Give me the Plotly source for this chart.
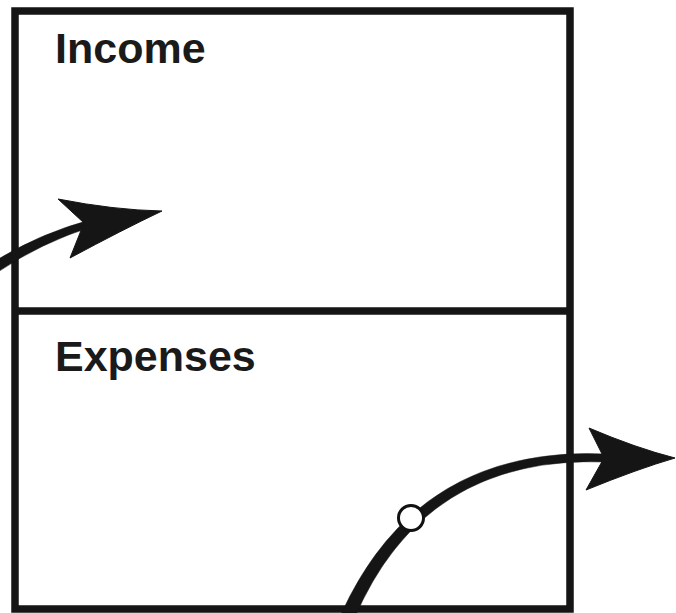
import math
import plotly.graph_objects as go

W, H = 676, 613

# Diagram content
section_labels = ["Income", "Expenses"]
label_pos = [(53, 48), (53, 356)]

# box geometry (pixel-like data coordinates)
box_x = [15, 570]
box_y = [11, 311, 609]

# arrow 1 (entering Income): shaft (start, control, end), head (tip, upper barb, notch, lower barb)
arrow1_shaft = [(-6, 268), (40, 238), (92, 223)]
arrow1_width = (11, 7)
arrow1_head = [(162, 211), (58, 199), (84, 223), (70, 258)]

# arrow 2 (leaving Expenses)
arrow2_shaft = [(347, 618), (420, 450), (606, 458)]
arrow2_width = (14, 8)
arrow2_head = [(675, 458), (589, 428), (604, 458), (586, 490)]

marker_pt = (411, 518)

def pt(p):
    return f"{p[0]:.1f},{p[1]:.1f}"

def head_path(h):
    tip, up, notch, low = h
    c1 = ((up[0] + tip[0]) / 2 + 4, (up[1] + tip[1]) / 2 + 5)
    c2 = ((low[0] + tip[0]) / 2 + 7, (low[1] + tip[1]) / 2 - 5)
    return (f"M {pt(tip)} Q {pt(c1)} {pt(up)} L {pt(notch)} L {pt(low)} "
            f"Q {pt(c2)} {pt(tip)} Z")

def normal(a, b):
    dx, dy = b[0] - a[0], b[1] - a[1]
    L = math.hypot(dx, dy)
    return (-dy / L, dx / L)

def tapered_shaft(s, widths):
    p0, p1, p2 = s
    w0, w2 = widths[0] / 2, widths[1] / 2
    w1 = (w0 + w2) / 2
    n0 = normal(p0, p1)
    n2 = normal(p1, p2)
    n1 = normal(p0, p2)
    def off(p, n, w, sgn):
        return (p[0] + sgn * n[0] * w, p[1] + sgn * n[1] * w)
    return (f"M {pt(off(p0, n0, w0, 1))} Q {pt(off(p1, n1, w1, 1))} {pt(off(p2, n2, w2, 1))} "
            f"L {pt(off(p2, n2, w2, -1))} Q {pt(off(p1, n1, w1, -1))} {pt(off(p0, n0, w0, -1))} Z")

fig = go.Figure()
fig.add_trace(go.Scatter(x=[marker_pt[0]], y=[marker_pt[1]], mode="markers",
                         marker=dict(size=25, color="white",
                                     line=dict(color="#111", width=3)),
                         hoverinfo="skip", showlegend=False))

shapes = []
ink = "#151515"
shapes.append(dict(type="rect", xref="x", yref="y", x0=box_x[0], x1=box_x[1],
                   y0=box_y[0], y1=box_y[2], line=dict(color=ink, width=7.5),
                   fillcolor="rgba(0,0,0,0)", layer="below"))
shapes.append(dict(type="line", xref="x", yref="y", x0=box_x[0], x1=box_x[1],
                   y0=box_y[1], y1=box_y[1], line=dict(color=ink, width=7.5),
                   layer="below"))
for s, wd in ((arrow1_shaft, arrow1_width), (arrow2_shaft, arrow2_width)):
    shapes.append(dict(type="path", xref="x", yref="y", path=tapered_shaft(s, wd),
                       line=dict(color=ink, width=0.5), fillcolor=ink, layer="below"))
for h in (arrow1_head, arrow2_head):
    shapes.append(dict(type="path", xref="x", yref="y", path=head_path(h),
                       line=dict(color=ink, width=1), fillcolor=ink, layer="below"))

annotations = []
for lab, (x, y) in zip(section_labels, label_pos):
    annotations.append(dict(x=x, y=y, xref="x", yref="y", text=f"<b>{lab}</b>",
                            showarrow=False, xanchor="left", yanchor="middle",
                            font=dict(family="Liberation Sans, Arial, sans-serif",
                                      size=43, color="#1a1a1a")))

fig.update_layout(width=W, height=H, margin=dict(l=0, r=0, t=0, b=0),
                  paper_bgcolor="white", plot_bgcolor="white",
                  shapes=shapes, annotations=annotations,
                  xaxis=dict(range=[0, W], visible=False, fixedrange=True),
                  yaxis=dict(range=[H, 0], visible=False, fixedrange=True))
fig.write_html("out.html", config={"displayModeBar": False},
               post_script="document.body.style.margin='0px';document.body.style.overflow='hidden';")
